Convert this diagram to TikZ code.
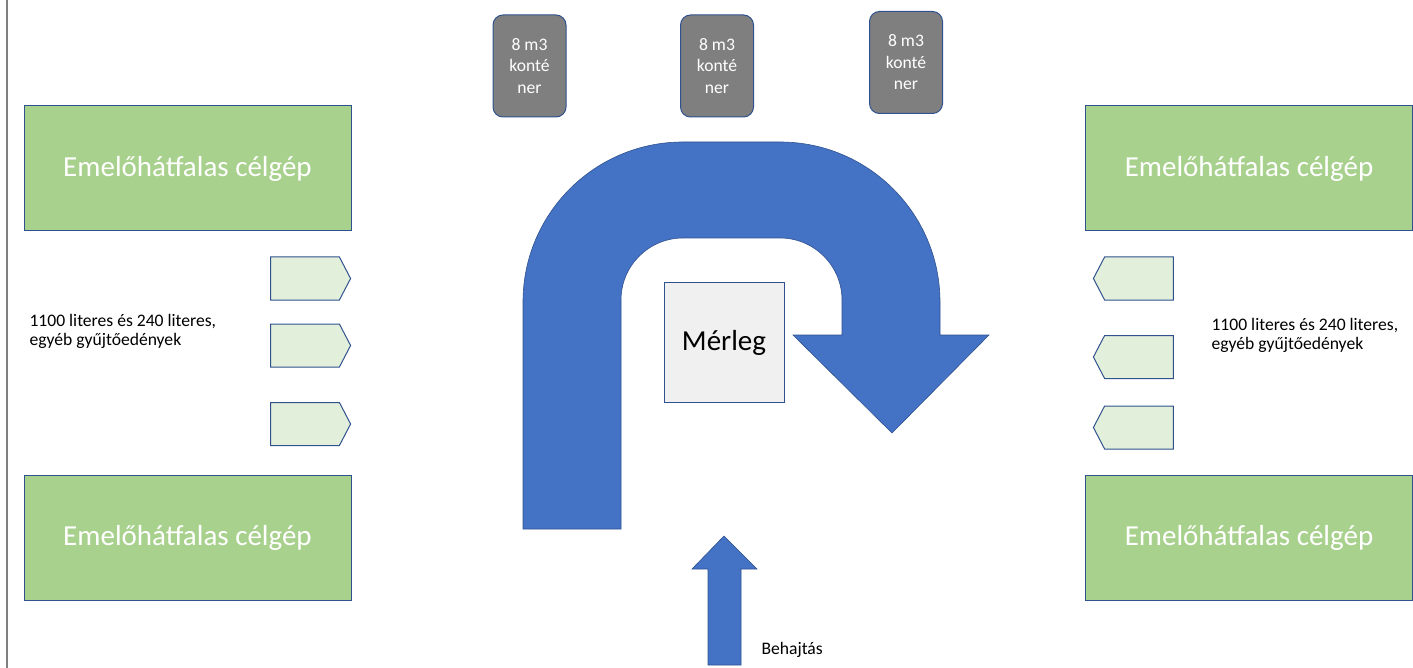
\documentclass[tikz,border=0pt]{standalone}
\usepackage{fontspec}
\setmainfont{Carlito}
\usetikzlibrary{shapes.symbols}
\definecolor{PlanBlue}{HTML}{4472C4}
\definecolor{PlanEdge}{HTML}{2F528F}
\definecolor{PlanGreen}{HTML}{A9D18E}
\definecolor{PlanPale}{HTML}{E2EFDA}
\definecolor{PlanGrey}{HTML}{7F7F7F}
\definecolor{PlanScale}{HTML}{F0F0F0}

\begin{document}
\begin{tikzpicture}[
    x=1pt, y=-1pt,
    machine/.style={
      draw=PlanEdge,
      fill=PlanGreen,
      line width=1pt,
      minimum width=327pt,
      minimum height=125pt,
      inner sep=0pt,
      text=white,
      font=\fontsize{29}{35}\selectfont
    },
    bin/.style={
      signal,
      signal to=#1,
      draw=PlanEdge,
      fill=PlanPale,
      line width=1pt,
      minimum width=80pt,
      minimum height=43pt,
      inner sep=0pt,
      signal pointer angle=125
    },
    skip/.style={
      draw=PlanEdge,
      fill=PlanGrey,
      line width=1pt,
      rounded corners=10pt,
      minimum width=73pt,
      minimum height=102pt,
      inner sep=0pt,
      align=center,
      text=white,
      font=\fontsize{17.6}{21.5}\selectfont
    },
    note/.style={
      anchor=west,
      align=left,
      font=\fontsize{17.6}{19}\selectfont
    },
    road/.style={
      draw=PlanEdge,
      fill=PlanBlue,
      line width=0.6pt
    }
  ]
  \useasboundingbox (0,0) rectangle (1413,668);

  % Page edge
  \draw[PlanGrey, line width=2pt] (7,0) -- (7,668);

  % Lifting trucks
  \node[machine] (mtl) at (187.5,168.5) {Emelőhátfalas célgép};
  \node[machine] (mbl) at (187.5,537.5) {Emelőhátfalas célgép};
  \node[machine] (mtr) at (1249,168.5)  {Emelőhátfalas célgép};
  \node[machine] (mbr) at (1249,537.5)  {Emelőhátfalas célgép};

  % Bins
  \node[bin=east] (bl1) at (305,278.5) {};
  \node[bin=east] (bl2) at (305,345.5) {};
  \node[bin=east] (bl3) at (305,424)   {};
  \node[bin=west] (br1) at (1139,278.5) {};
  \node[bin=west] (br2) at (1139,357)   {};
  \node[bin=west] (br3) at (1139,427.5) {};

  \node[note] (nl) at (26,331) {1100 literes és 240 literes,\\egyéb gyűjtőedények};
  \node[note] (nr) at (1208,335) {1100 literes és 240 literes,\\egyéb gyűjtőedények};

  % Containers
  \node[skip] (k1) at (529.5,66) {8 m3\\konté\\ner};
  \node[skip] (k2) at (717,66)   {8 m3\\konté\\ner};
  \node[skip] (k3) at (906,62.5) {8 m3\\konté\\ner};

  % U-turn
  \path[road] (523,529) -- (523,302) arc[start angle=180, end angle=270, radius=160]
    -- (780,142) arc[start angle=270, end angle=360, radius=160]
    -- (940,335) -- (989,335) -- (892,433) -- (793,335) -- (842,335)
    -- (842,300) arc[start angle=0, end angle=-90, radius=62]
    -- (683,238) arc[start angle=-90, end angle=-180, radius=62]
    -- (621,529) -- cycle;

  \node[draw=PlanEdge, fill=PlanScale, line width=1pt, minimum width=120pt,
    minimum height=119pt, inner sep=0pt, font=\fontsize{29}{35}\selectfont]
    (scale) at (724,342.5) {Mérleg};

  % Entry
  \path[road] (708,665) -- (708,569) -- (692,569) -- (724,536)
    -- (757,569) -- (741,569) -- (741,665) -- cycle;
  \node[anchor=west, font=\fontsize{17.6}{19}\selectfont] (entry) at (758,650) {Behajtás};

\end{tikzpicture}
\end{document}
